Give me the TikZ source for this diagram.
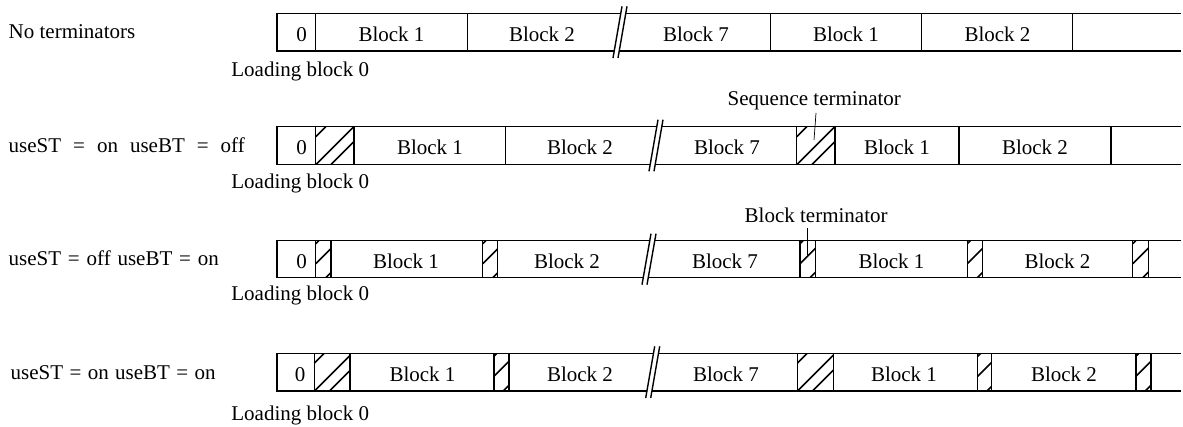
\documentclass[tikz,border=0pt]{standalone}
\usepackage{fontspec}
\setmainfont{Liberation Serif}
\newcommand\brkmark[3]{% xb, top, bottom
  \fill[white] (#1-7,#3+7) -- (#1+2,#2-7) -- (#1+7,#2-7) -- (#1-2,#3+7) -- cycle;
  \draw (#1-7,#3+7) -- (#1+2,#2-7);
  \draw (#1-2,#3+7) -- (#1+7,#2-7);}
\newcommand\termbox[5]{% x1, x2, top, bottom, offsets
  \begin{scope}
    \clip (#1,#3) rectangle (#2,#4);
    \foreach \c in {#5} \draw[line width=1.6pt] (#1,#3+\c) -- (#1+\c,#3);
  \end{scope}}
\newcommand\rowframe[2]{% top, bottom
  \draw (1181,#1) -- (277,#1) -- (277,#2) -- (1181,#2);}
\begin{document}
\begin{tikzpicture}[x=1pt,y=-1pt,line width=1.4pt,
  txt/.style={anchor=base,inner sep=0pt,font=\fontsize{21}{25}\selectfont},
  side/.style={anchor=base west,inner sep=0pt,font=\fontsize{21}{25}\selectfont},
  leader/.style={line width=0.7pt}]
\useasboundingbox (0,0) rectangle (1183,427);
% ---------- Row 1 ----------
\rowframe{13.3}{51}
\foreach \x in {315.7,467.3,770.7,921.7,1072.7} \draw (\x,13.3) -- (\x,51);
\brkmark{620}{13.3}{51}
\node[side] (l1) at (8,39) {No terminators};
\node[side] (ld1) at (230.7,77) {Loading block 0};
\node[txt] (a0) at (301.5,42) {0};
\node[txt] (a1) at (391.5,42) {Block 1};
\node[txt] (a2) at (542,42) {Block 2};
\node[txt] (a7) at (696,42) {Block 7};
\node[txt] (a1b) at (846,42) {Block 1};
\node[txt] (a2b) at (997.5,42) {Block 2};
% ---------- Row 2 ----------
\rowframe{126.7}{164.3}
\termbox{315.7}{354}{126.7}{164.3}{10,38,53}
\termbox{796.7}{835}{126.7}{164.3}{10,38,53}
\foreach \x in {315.7,354,505.7,796.7,835,959,1111} \draw (\x,126.7) -- (\x,164.3);
\brkmark{656}{126.7}{164.3}
\node[side] (l2) at (8,153) {\spaceskip=12pt useST = on useBT = off};
\node[side] (ld2) at (230.7,189) {Loading block 0};
\node[txt] (b0) at (301.5,155) {0};
\node[txt] (b1) at (430,155) {Block 1};
\node[txt] (b2) at (580,155) {Block 2};
\node[txt] (b7) at (727,155) {Block 7};
\node[txt] (b1b) at (897,155) {Block 1};
\node[txt] (b2b) at (1035,155) {Block 2};
\node[side] (st) at (727,106) {Sequence terminator};
\coordinate (stt) at (816,113);
\coordinate (stb) at (814,140);
\draw[leader] (stt) -- (stb);
% ---------- Row 3 ----------
\rowframe{240.7}{277.7}
\termbox{315.7}{331}{240.7}{277.7}{3,23,47}
\termbox{482.7}{497.7}{240.7}{277.7}{3,23,47}
\termbox{800}{815.7}{240.7}{277.7}{3,23,47}
\termbox{967.3}{982.3}{240.7}{277.7}{3,23,47}
\termbox{1132.7}{1148.3}{240.7}{277.7}{3,23,47}
\foreach \x in {315.7,331,482.7,497.7,800,815.7,967.3,982.3,1132.7,1148.3} \draw (\x,240.7) -- (\x,277.7);
\brkmark{649}{240.7}{277.7}
\node[side] (l3) at (8,266) {\spaceskip=6.8pt useST = off useBT = on};
\node[side] (ld3) at (230.7,301) {Loading block 0};
\node[txt] (c0) at (301.5,268.5) {0};
\node[txt] (c1) at (406,268.5) {Block 1};
\node[txt] (c2) at (567,268.5) {Block 2};
\node[txt] (c7) at (725,268.5) {Block 7};
\node[txt] (c1b) at (891.5,268.5) {Block 1};
\node[txt] (c2b) at (1057.5,268.5) {Block 2};
\node[side] (bt) at (744,222.7) {Block terminator};
\coordinate (btt) at (807.7,228);
\coordinate (btb) at (807.7,255);
\draw[leader] (btt) -- (btb);
% ---------- Row 4 ----------
\rowframe{353.3}{391}
\termbox{314.3}{350}{353.3}{391}{10,38,53}
\termbox{494}{509}{353.3}{391}{3,23,47}
\termbox{797.3}{833.3}{353.3}{391}{10,38,53}
\termbox{977.7}{991.7}{353.3}{391}{3,23,47}
\termbox{1136}{1151}{353.3}{391}{3,23,47}
\foreach \x in {314.3,350,494,509,797.3,833.3,977.7,991.7,1136,1151} \draw (\x,353.3) -- (\x,391);
\brkmark{652.7}{353.3}{391}
\node[side] (l4) at (10,379) {\spaceskip=6.4pt useST = on useBT = on};
\node[side] (ld4) at (230.7,420) {Loading block 0};
\node[txt] (d0) at (300,381.7) {0};
\node[txt] (d1) at (422.5,381.7) {Block 1};
\node[txt] (d2) at (580,381.7) {Block 2};
\node[txt] (d7) at (726,381.7) {Block 7};
\node[txt] (d1b) at (904,381.7) {Block 1};
\node[txt] (d2b) at (1064,381.7) {Block 2};
\end{tikzpicture}
\end{document}
